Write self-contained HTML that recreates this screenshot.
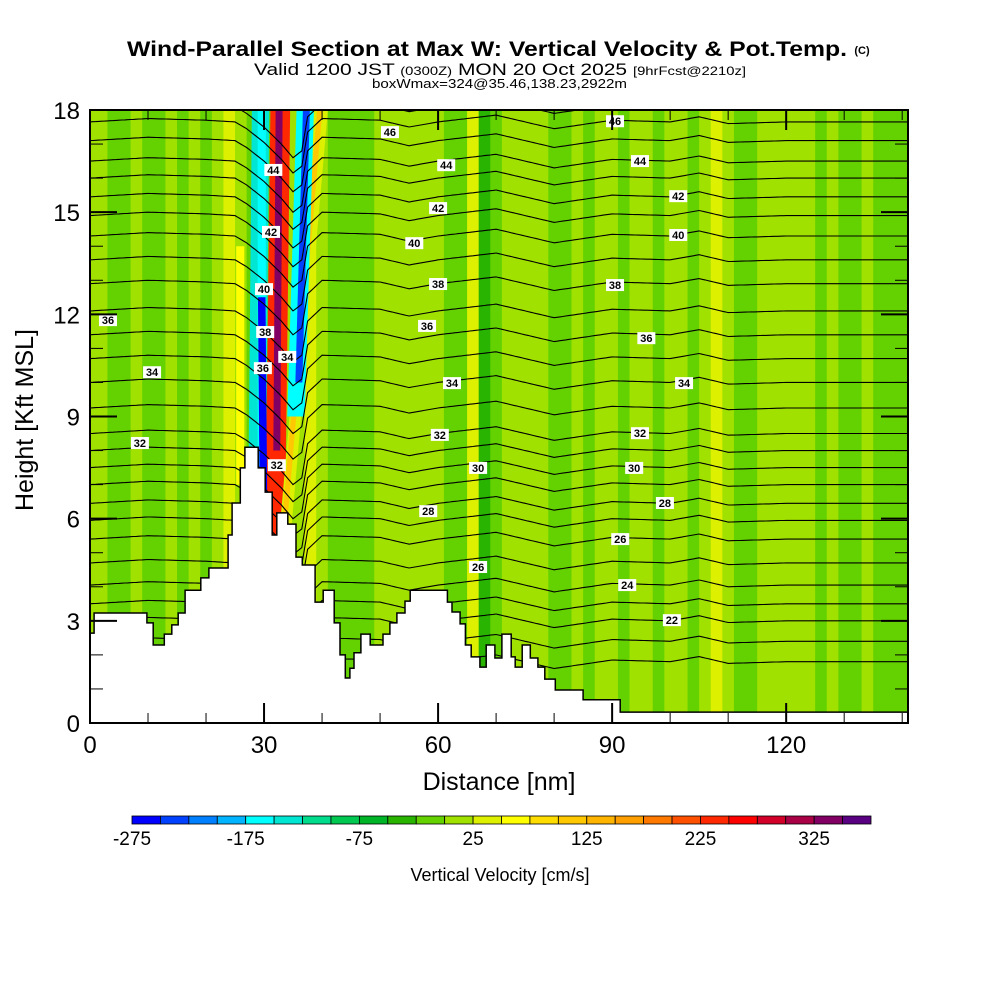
<!DOCTYPE html>
<html><head><meta charset="utf-8"><style>
html,body{margin:0;padding:0;background:#fff;width:1000px;height:1000px;overflow:hidden}
svg{display:block}
text{font-family:"Liberation Sans",sans-serif}
</style></head><body>
<svg id="chart" width="1000" height="1000" viewBox="0 0 1000 1000" xmlns="http://www.w3.org/2000/svg">
<text x="127" y="56" textLength="720" lengthAdjust="spacingAndGlyphs" font-size="21" font-weight="bold">Wind-Parallel Section at Max W: Vertical Velocity &amp; Pot.Temp.</text>
<text x="862" y="54" text-anchor="middle" font-size="11" font-weight="bold">(C)</text>
<text x="254" y="75" textLength="492" lengthAdjust="spacingAndGlyphs" font-size="17">Valid 1200 JST <tspan font-size="12">(0300Z)</tspan> MON 20 Oct 2025 <tspan font-size="12">[9hrFcst@2210z]</tspan></text>
<text x="372" y="88" textLength="255" lengthAdjust="spacingAndGlyphs" font-size="13">boxWmax=324@35.46,138.23,2922m</text>
<defs><clipPath id="plotclip"><rect x="90" y="110" width="818" height="613"/></clipPath></defs>
<g id="field" clip-path="url(#plotclip)"></g>
<g id="contours" clip-path="url(#plotclip)"></g>
<g id="terrain" clip-path="url(#plotclip)"></g>
<g id="labels"></g>
<g id="axes"></g>
<g id="cbar"></g>
<text x="499" y="790" text-anchor="middle" font-size="25">Distance [nm]</text>
<text transform="translate(33,420) rotate(-90)" text-anchor="middle" font-size="25">Height [Kft MSL]</text>
<text x="500" y="881" text-anchor="middle" font-size="18">Vertical Velocity [cm/s]</text>
</svg>
<script>
// ---- data ----
const cbarBounds = [-275,-250,-225,-200,-175,-150,-125,-100,-75,-50,-25,0,25,50,75,100,125,150,175,200,225,250,275,300,325,350,375];
const cbarColors = ["#0000ff","#0040ff","#0080ff","#00b4ff","#00ffff","#00e6d2","#00dc8c","#00c850","#00b428","#28b400","#64d200","#a0e100","#dcf000","#ffff00","#ffdc00","#ffc800","#ffb400","#ffa000","#ff7800","#ff5000","#ff2800","#ff0000","#d20028","#aa0046","#820064","#5a0082"];
const cbarTickLabels = [-275,-175,-75,25,125,225,325];
const xTicks = [0,30,60,90,120];
const yTicks = [0,3,6,9,12,15,18];
const colX = [0,2,4,6,8,10,12,14,16,18,20,22,24,26,28,30,32,34,36,38,40,42,44,46,48,50,52,54,56,58,60,62,64,66,68,70,72,74,76,78,80,82,84,86,88,90,92,94,96,98,100,102,104,106,108,110,112,114,116,118,120,122,124,126,128,130,132,134,136,138,140];
const colW = [10,10,-10,-10,10,-10,-10,10,-10,10,-10,10,35,10,-10,-10,-10,10,10,35,10,-10,-10,-10,-10,10,10,10,10,10,10,-10,-10,35,-40,-10,10,10,10,10,-10,-10,10,-10,10,10,-10,10,10,-10,10,10,-10,10,35,10,-10,-10,10,10,10,10,10,-10,10,-10,-10,10,-10,-10,-10];
// wave bands: [center nm at bottom, center nm at top, width nm, bottom kft, top kft, w]
const bandXBot = [25.9, 28.8, 29.6, 31.9, 33.6, 33.6, 35.5, 36.0, 29.9, 32.2];
const bandXTop = [25.9, 29.4, 29.6, 32.8, 40.0, 39.6, 37.1, 37.3, 29.6, 32.6];
const bandWid  = [1.4,  3.0,  1.4,  3.4,  2.0,  0.9,  3.0,  1.2,  1.3,  1.2];
const bandHBot = [7.0,  7.0,  7.0,  5.5,  5.5,  6.0,  9.0,  10.0, 6.5,  8.0];
const bandHTop = [14.0, 18.0, 18.0, 18.0, 18.0, 18.0, 18.0, 18.0, 12.5, 18.0];
const bandW    = [55,  -130, -170,  240,  40,   110, -160, -230, -255, 330];
const terrX = [0,0.7,9.8,10.9,12.8,14.1,15.2,16.4,19.1,20.5,23.8,24.5,25.9,26.7,29.0,30.2,31.4,32.2,34.1,35.5,36.6,38.8,40.2,42.1,43.1,44.0,44.8,45.5,46.7,48.3,50.5,51.7,52.9,54.3,55.2,61.6,62.4,63.8,64.7,65.7,67.2,68.3,69.8,71.0,72.6,73.3,74.5,75.9,77.2,78.4,80.2,85.0,91.4];
const terrH = [2.64,3.23,2.94,2.29,2.61,2.88,3.23,3.90,4.26,4.55,5.52,6.46,7.49,8.10,7.49,6.78,5.52,6.17,5.84,4.87,4.64,3.55,3.90,2.94,2.00,1.32,1.61,2.06,2.61,2.29,2.61,2.94,3.23,3.58,3.90,3.55,3.26,2.91,2.29,1.94,1.64,2.29,1.91,2.61,1.94,1.64,2.29,1.91,1.64,1.29,0.97,0.68,0.32];
const thetaLevels = [20,21,22,23,24,25,26,27,28,29,30,31,32,33,34,35,36,37,38,39,40,41,42,43,44,45,46,47];
const thetaHeights = [1.8,2.4,3.0,3.5,4.05,4.7,5.4,5.95,6.45,7.0,7.5,8.0,8.5,9.25,10.0,10.7,11.4,12.1,12.9,13.6,14.3,14.9,15.45,16.0,16.5,17.1,17.65,18.1];
const dispX = [0,10,20,25,27,30,33,35,36.5,37.5,40,50,55,60,70,80,90,100,105,110,120,141];
const dispV = [0,0.1,0.05,0,-0.2,-0.6,-1.1,-1.5,-1.3,-0.3,0.1,0.05,-0.15,0,0.2,-0.2,0.05,0,0.15,-0.05,0,0];
const labelX = [51.7,90.5,61.4,94.8,31.6,60,101.4,31.2,55.9,101.4,30,60,90.5,30.2,3.1,58.1,95.9,29.8,34,10.7,62.4,102.4,8.6,60.3,94.8,32.2,66.9,93.8,58.3,99.1,66.9,91.4,92.6,100.3];
const labelH = [17.35,17.67,16.38,16.5,16.24,15.12,15.47,14.42,14.09,14.33,12.74,12.89,12.86,11.48,11.83,11.66,11.3,10.42,10.75,10.3,9.98,9.98,8.22,8.46,8.51,7.57,7.49,7.49,6.22,6.46,4.58,5.4,4.05,3.02];
const labelT = ["46","46","44","44","44","42","42","42","40","40","40","38","38","38","36","36","36","36","34","34","34","34","32","32","32","32","30","30","28","28","26","26","24","22"];

// ---- scales ----
const X0=90,X1=908,Y0=723,Y1=110,XMAX=141,YMAX=18;
const sx = v => X0 + v/XMAX*(X1-X0);
const sy = v => Y0 - v/YMAX*(Y0-Y1);
const NS="http://www.w3.org/2000/svg";
function mk(tag, attrs, parent){const e=document.createElementNS(NS,tag);for(const k in attrs)e.setAttribute(k,attrs[k]);parent.appendChild(e);return e;}
function colorOf(w){let i=Math.floor((w-cbarBounds[0])/25);i=Math.max(0,Math.min(cbarColors.length-1,i));return cbarColors[i];}

// ---- field ----
const field=document.getElementById('field');
for(let i=0;i<colX.length;i++){
  const r=mk('rect',{x:sx(colX[i]-1),y:Y1,width:sx(2)-X0+0.6,height:Y0-Y1,fill:colorOf(colW[i])},field);
  
  
}
for(let i=0;i<bandW.length;i++){
  const hb=bandHBot[i],ht=bandHTop[i],hw=bandWid[i]/2;
  const pts=[[bandXBot[i]-hw,hb],[bandXBot[i]+hw,hb],[bandXTop[i]+hw,ht],[bandXTop[i]-hw,ht]].map(p=>sx(p[0])+','+sy(p[1])).join(' ');
  const p=mk('polygon',{points:pts,fill:colorOf(bandW[i])},field);
  
  
}

// ---- contours ----
function disp(x){for(let i=0;i<dispX.length-1;i++){if(x<=dispX[i+1]){const t=(x-dispX[i])/(dispX[i+1]-dispX[i]);return dispV[i]+t*(dispV[i+1]-dispV[i]);}}return dispV[dispV.length-1];}
const cg=document.getElementById('contours');
for(let k=0;k<thetaLevels.length;k++){
  let d='';
  for(let x=0;x<=XMAX;x+=0.5){d+=(x===0?'M':'L')+sx(x).toFixed(1)+','+sy(thetaHeights[k]+disp(x)).toFixed(1);}
  const p=mk('path',{d:d,fill:'none',stroke:'#000','stroke-width':1.1},cg);
  
  
}

// ---- terrain ----
const tg=document.getElementById('terrain');
let td='M'+sx(0)+','+(Y0+2);
for(let i=0;i<terrX.length;i++){
  td+=' L'+sx(terrX[i]).toFixed(1)+','+(i===0?sy(terrH[0]):sy(terrH[i-1])).toFixed(1)+' L'+sx(terrX[i]).toFixed(1)+','+sy(terrH[i]).toFixed(1);
}
td+=' L'+X1+','+sy(terrH[terrH.length-1]).toFixed(1)+' L'+X1+','+(Y0+2)+' Z';
const tp=mk('path',{d:td,fill:'#fff',stroke:'#000','stroke-width':1.5},tg);



// ---- contour labels ----
const lg=document.getElementById('labels');
for(let i=0;i<labelT.length;i++){
  const cx=sx(labelX[i]),cy=sy(labelH[i]);
  const r=mk('rect',{x:cx-9,y:cy-6,width:18,height:12,fill:'#fff'},lg);
  
  
  const t=mk('text',{x:cx,y:cy+4,'text-anchor':'middle','font-size':11,'font-weight':'bold'},lg);
  t.textContent=labelT[i];
  
  
}

// ---- axes ----
const ag=document.getElementById('axes');
const fr=mk('rect',{x:X0,y:Y1,width:X1-X0,height:Y0-Y1,fill:'none',stroke:'#000','stroke-width':2},ag);


for(let v=0;v<=140;v+=10){
  const major=(v%30===0);const L=major?20:10;
  const l1=mk('line',{x1:sx(v),x2:sx(v),y1:Y0,y2:Y0-L,stroke:'#000','stroke-width':major?2:1},ag);
  
  
  const l2=mk('line',{x1:sx(v),x2:sx(v),y1:Y1,y2:Y1+L,stroke:'#000','stroke-width':major?2:1},ag);
  
  
}
for(let v=0;v<=18;v+=1){
  const major=(v%3===0);const L=major?27:13;
  const l1=mk('line',{x1:X0,x2:X0+L,y1:sy(v),y2:sy(v),stroke:'#000','stroke-width':major?2:1},ag);
  
  
  const l2=mk('line',{x1:X1,x2:X1-L,y1:sy(v),y2:sy(v),stroke:'#000','stroke-width':major?2:1},ag);
  
  
}
xTicks.forEach(v=>{
  const t=mk('text',{x:sx(v),y:753,'text-anchor':'middle','font-size':24},ag);
  t.textContent=v;
  
  
});
yTicks.forEach(v=>{
  const t=mk('text',{x:80,y:sy(v)+9,'text-anchor':'end','font-size':24},ag);
  t.textContent=v;
  
  
});

// ---- colorbar ----
const cb=document.getElementById('cbar');
const CB0=132,CB1=871,cw=(CB1-CB0)/cbarColors.length;
for(let i=0;i<cbarColors.length;i++){
  const r=mk('rect',{x:CB0+i*cw,y:816,width:cw,height:8,fill:cbarColors[i],stroke:'#000','stroke-width':0.8},cb);
  
  
}
cbarTickLabels.forEach(v=>{
  const i=cbarBounds.indexOf(v);
  const t=mk('text',{x:CB0+i*cw,y:845,'text-anchor':'middle','font-size':19},cb);
  t.textContent=v;
  
  
});
</script>
</body></html>
